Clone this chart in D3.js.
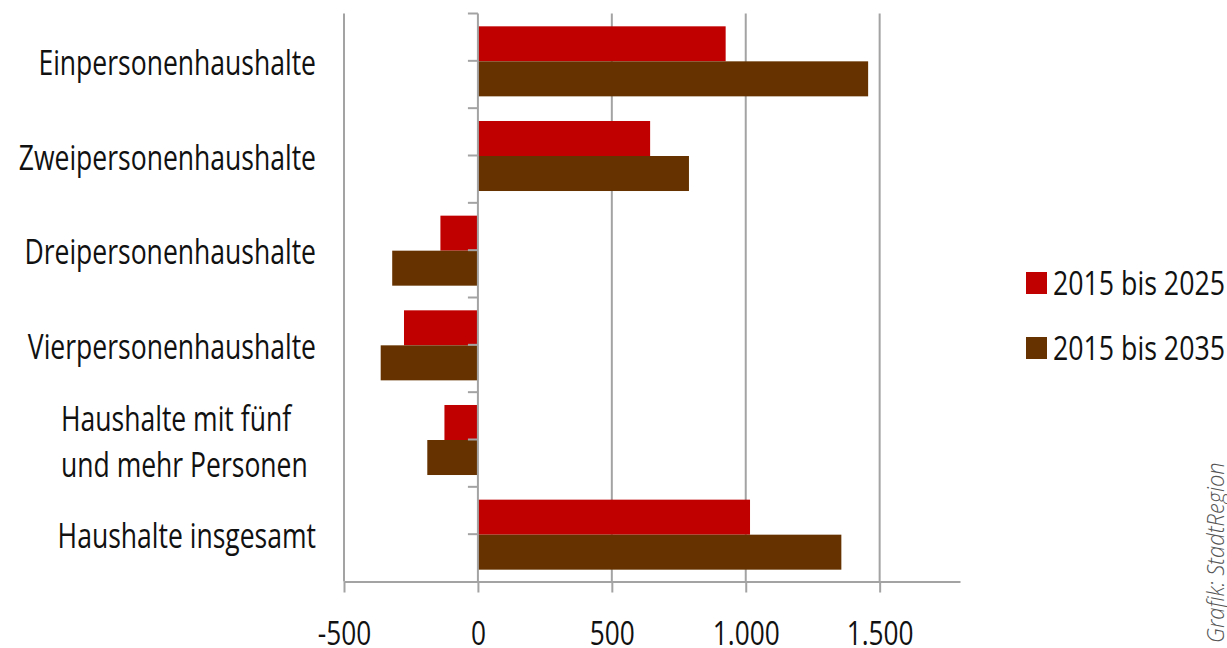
<!DOCTYPE html>
<html>
<head>
<meta charset="utf-8">
<script src="https://cdn.jsdelivr.net/npm/d3@7"></script>
<style>
  html, body { margin: 0; padding: 0; background: #fff; }
  svg { display: block; }
  text { font-family: "Open Sans", "Noto Sans", sans-serif; fill: #111; }
</style>
</head>
<body>
<svg id="chart" width="1227" height="648"></svg>
<script>
// Veränderung der Haushaltszahlen nach Haushaltsgröße
const categories = [
  "Einpersonenhaushalte",
  "Zweipersonenhaushalte",
  "Dreipersonenhaushalte",
  "Vierpersonenhaushalte",
  "Haushalte mit fünf\nund mehr Personen",
  "Haushalte insgesamt"
];
const seriesNames = ["2015 bis 2025", "2015 bis 2035"];
const values2025 = [925, 643, -140, -276, -125, 1016];
const values2035 = [1457, 788, -320, -363, -189, 1357];
const xTickValues = [-500, 0, 500, 1000, 1500];
const xDomain = [-500, 1800];

const colors = ["#c00000", "#663300"];
const gridColor = "#a3a3a3";

const svg = d3.select("#chart");
const plotLeft = 344, plotRight = 960, plotTop = 13.5, plotBottom = 581.5;

const x = d3.scaleLinear().domain(xDomain).range([plotLeft, plotRight]);
const y = d3.scaleBand().domain(categories).range([plotTop, plotBottom]);
const ySeries = d3.scaleBand().domain(seriesNames)
  .range([0, y.bandwidth()]).paddingOuter(0.352);

const de = d3.formatLocale({ decimal: ",", thousands: ".", grouping: [3], currency: ["", " €"], minus: "-" });
const fmt = de.format(",d");

// squeeze a text horizontally to imitate a narrow face
function narrow(factor) {
  return sel => sel.each(function () {
    const w = this.getComputedTextLength();
    d3.select(this).attr("textLength", w * factor).attr("lengthAdjust", "spacingAndGlyphs");
  });
}

// vertical gridlines
svg.append("g").selectAll("line")
  .data(xTickValues.filter(v => v !== 0))
  .join("line")
  .attr("x1", d => x(d)).attr("x2", d => x(d))
  .attr("y1", plotTop).attr("y2", plotBottom)
  .attr("stroke", gridColor).attr("stroke-width", 2);

// bars
const rows = categories.map((c, i) => ({ c, vals: [values2025[i], values2035[i]] }));
const g = svg.append("g");
rows.forEach(r => {
  r.vals.forEach((v, j) => {
    g.append("rect")
      .attr("x", x(Math.min(0, v)))
      .attr("width", Math.abs(x(v) - x(0)))
      .attr("y", y(r.c) + ySeries(seriesNames[j]) + 0.5)
      .attr("height", ySeries.bandwidth())
      .attr("fill", colors[j]);
  });
});

// bottom value axis
const xAxis = d3.axisBottom(x).tickValues(xTickValues).tickFormat(fmt)
  .tickSize(11).tickSizeOuter(0).tickPadding(28);
const gx = svg.append("g").attr("transform", `translate(0,${plotBottom})`).call(xAxis);
gx.attr("font-family", null).attr("font-size", null);
gx.select(".domain").attr("stroke", gridColor).attr("stroke-width", 2);
gx.selectAll(".tick line").attr("stroke", gridColor).attr("stroke-width", 2);
gx.selectAll(".tick text")
  .attr("font-size", 32).attr("fill", "#111")
  .attr("dy", null).attr("y", 63)
  .call(narrow(0.82));

// category axis at zero
const zx = x(0);
const catTicks = [];
categories.forEach(c => { catTicks.push(y(c)); catTicks.push(y(c) + y.bandwidth() / 2); });
const gy = svg.append("g");
gy.append("line").attr("x1", zx).attr("x2", zx).attr("y1", plotTop).attr("y2", plotBottom)
  .attr("stroke", gridColor).attr("stroke-width", 2);
gy.selectAll("line.t").data(catTicks).join("line").attr("class", "t")
  .attr("x1", zx - 10).attr("x2", zx).attr("y1", d => d).attr("y2", d => d)
  .attr("stroke", gridColor).attr("stroke-width", 2);

// category labels
const labelRight = 316;
categories.forEach(c => {
  const lines = c.split("\n");
  const cy = y(c) + y.bandwidth() / 2 + 2;
  const lh = 46;
  lines.forEach((ln, k) => {
    const base = cy + 12 + (k - (lines.length - 1) / 2) * lh;
    const t = svg.append("text")
      .attr("font-size", 34)
      .attr("y", base)
      .text(ln)
      .call(narrow(0.78));
    if (lines.length > 1) t.attr("x", 61).attr("text-anchor", "start");
    else t.attr("x", labelRight).attr("text-anchor", "end");
  });
});

// legend
const lg = svg.append("g");
seriesNames.forEach((s, i) => {
  const ly = 272 + i * 65;
  lg.append("rect").attr("x", 1026).attr("y", ly).attr("width", 21).attr("height", 22)
    .attr("fill", colors[i]);
  lg.append("text").attr("x", 1053).attr("y", ly + 22.5).attr("font-size", 33)
    .text(s).call(narrow(0.81));
});

// source note
svg.append("text")
  .attr("transform", "translate(1224,643) rotate(-90)")
  .attr("font-size", 23).attr("font-style", "italic").attr("font-weight", 300)
  .style("fill", "#555")
  .text("Grafik: StadtRegion")
  .call(narrow(0.95));
</script>
</body>
</html>
